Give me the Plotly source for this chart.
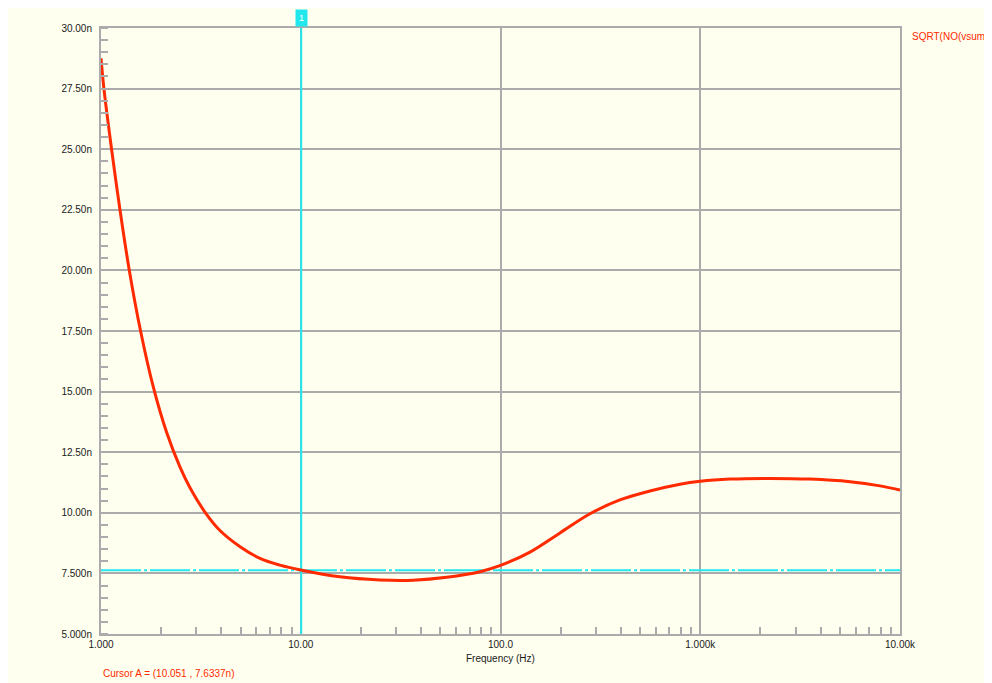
import math
import plotly.graph_objects as go

# ---- data ----
freq_hz = [1.0, 1.035, 1.131, 1.245, 1.386, 1.58, 1.83, 2.13, 2.49, 2.79, 3.32, 3.94,
           4.97, 6.25, 7.87, 10.0, 15.7, 24.9, 36.5, 53.8, 79.0, 100.0, 140.5, 198.6,
           280.6, 396.0, 560.0, 792.0, 1000.0, 1409.0, 2234.0, 3542.0, 5620.0, 7943.0,
           10000.0]
noise_n = [28.75, 27.48, 24.97, 22.49, 20.0, 17.48, 15.17, 13.32, 11.87, 11.03, 10.02, 9.27,
           8.6, 8.12, 7.84, 7.64, 7.36, 7.23, 7.22, 7.34, 7.57, 7.83, 8.38, 9.17,
           9.96, 10.53, 10.90, 11.18, 11.30, 11.39, 11.42, 11.39, 11.28, 11.11,
           10.94]

cursor_x = 10.051
cursor_y = 7.6337
y_tickvals = [5, 7.5, 10, 12.5, 15, 17.5, 20, 22.5, 25, 27.5, 30]
y_ticktext = ["5.000n", "7.500n", "10.00n", "12.50n", "15.00n", "17.50n",
              "20.00n", "22.50n", "25.00n", "27.50n", "30.00n"]
x_tickvals = [1, 10, 100, 1000, 10000]
x_ticktext = ["1.000", "10.00", "100.0", "1.000k", "10.00k"]
x_minor = [m * d for d in [1, 10, 100, 1000] for m in range(2, 10)]

BG = "#fffff0"
GRID = "#ababab"
RED = "#ff2a00"
CYAN = "#22e8ee"
FONT = "Liberation Sans"
TXT = "#1a1a1a"

fig = go.Figure()

# cursor horizontal line
fig.add_trace(go.Scatter(x=[1, 10000], y=[cursor_y, cursor_y], mode="lines",
                         line=dict(color=CYAN, width=2, dash="40px,3px,3px,3px"),
                         hoverinfo="skip", showlegend=False))
# cursor vertical line
fig.add_trace(go.Scatter(x=[cursor_x, cursor_x], y=[5, 30], mode="lines",
                         line=dict(color=CYAN, width=2),
                         hoverinfo="skip", showlegend=False))
# main curve
fig.add_trace(go.Scatter(x=freq_hz, y=noise_n, mode="lines", name="SQRT(NO(vsum))",
                         line=dict(color=RED, width=3, shape="spline", smoothing=1.0),
                         showlegend=False))

fig.update_xaxes(type="log", range=[0, 4], tickvals=x_tickvals, ticktext=x_ticktext,
                 showgrid=True, gridcolor=GRID, gridwidth=2,
                 showline=True, linecolor=GRID, linewidth=2, mirror=True,
                 ticks="", tickfont=dict(family=FONT, size=10, color=TXT),
                 zeroline=False,
                 minor=dict(tickvals=x_minor, ticks="inside", ticklen=7,
                            tickcolor=GRID, tickwidth=2, showgrid=False))
fig.update_yaxes(range=[5, 30], tickvals=y_tickvals, ticktext=y_ticktext,
                 showgrid=True, gridcolor=GRID, gridwidth=2,
                 showline=True, linecolor=GRID, linewidth=2, mirror=True,
                 ticks="", ticklabelstandoff=5,
                 tickfont=dict(family=FONT, size=10, color=TXT),
                 zeroline=False,
                 minor=dict(dtick=0.5, ticks="inside", ticklen=7,
                            tickcolor=GRID, tickwidth=2, showgrid=False))

fig.update_layout(
    width=984, height=675,
    margin=dict(l=93, r=92, t=20, b=49),
    paper_bgcolor=BG, plot_bgcolor=BG,
    font=dict(family=FONT, size=10, color=TXT),
    showlegend=False,
    annotations=[
        dict(text="1", x=math.log10(cursor_x), y=1, xref="x", yref="paper",
             xanchor="center", yanchor="bottom", yshift=1, showarrow=False,
             bgcolor=CYAN, borderpad=3, font=dict(family=FONT, size=9, color="white")),
        dict(text="Frequency (Hz)", x=0.5, y=0, xref="paper", yref="paper",
             xanchor="center", yanchor="top", yshift=-17, showarrow=False,
             font=dict(family=FONT, size=10, color=TXT)),
        dict(text="Cursor A = (10.051 , 7.6337n)", x=0, y=0, xref="paper", yref="paper",
             xanchor="left", yanchor="top", yshift=-32, showarrow=False,
             font=dict(family=FONT, size=10, color=RED)),
        dict(text="SQRT(NO(vsum))", x=1, y=1, xref="paper", yref="paper",
             xanchor="left", yanchor="top", xshift=10, yshift=-1, showarrow=False,
             font=dict(family=FONT, size=10, color=RED)),
    ],
)

fig.write_html("out.html")
